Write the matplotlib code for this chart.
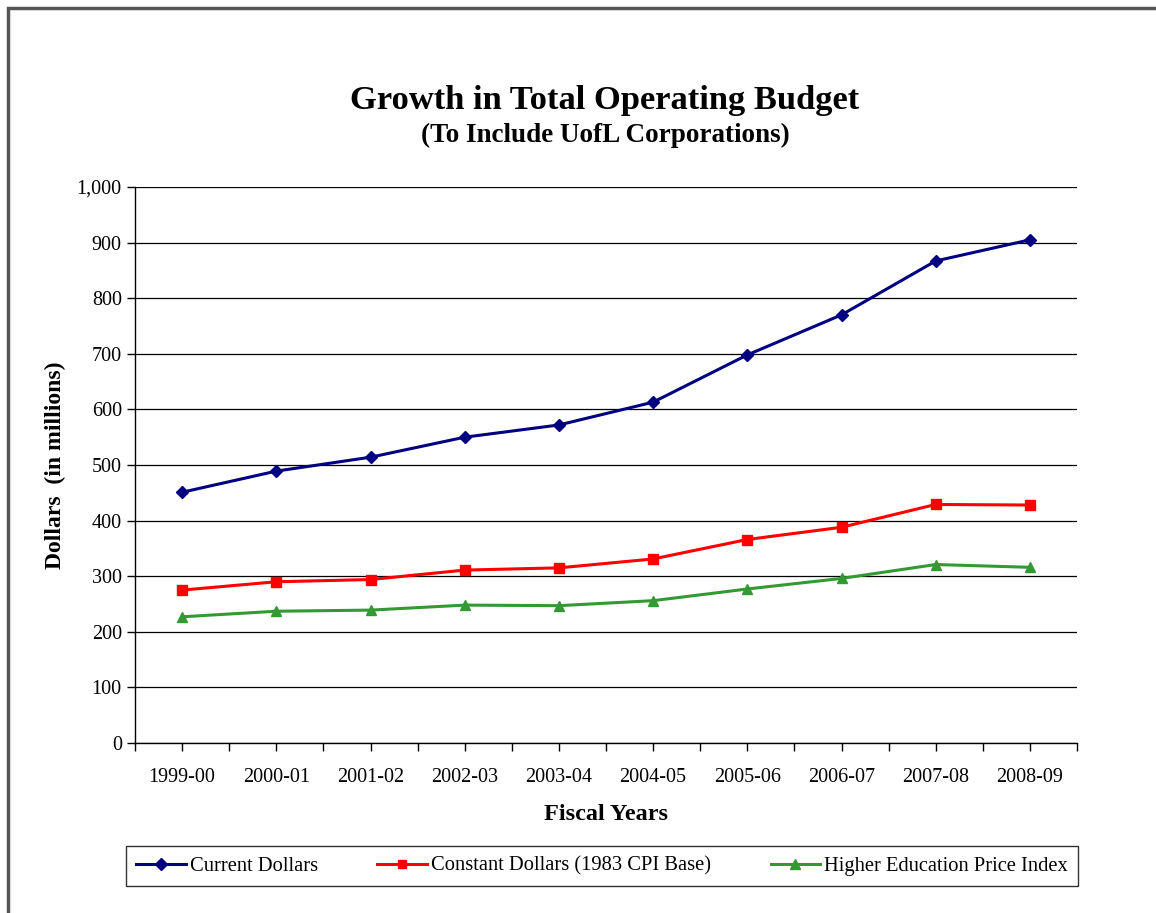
import matplotlib.pyplot as plt
from matplotlib.patches import Rectangle
from matplotlib.ticker import FuncFormatter, MultipleLocator

years = ['1999-00', '2000-01', '2001-02', '2002-03', '2003-04',
         '2004-05', '2005-06', '2006-07', '2007-08', '2008-09']
current_dollars = [451, 489, 514, 550, 572, 613, 698, 770, 867, 905]
constant_dollars = [275, 290, 294, 311, 315, 331, 366, 388, 429, 428]
hepi = [227, 237, 239, 248, 247, 256, 277, 296, 321, 316]

plt.rcParams['font.family'] = 'Liberation Serif'

fig = plt.figure(figsize=(11.56, 9.13), dpi=100)
ax = fig.add_axes([135 / 1156, 1 - 743 / 913, 942 / 1156, 556 / 913])

x = list(range(len(years)))
ax.plot(x, current_dollars, color='#000080', lw=2.2, marker='D', ms=6.5,
        label='Current Dollars', zorder=3)
ax.plot(x, constant_dollars, color='#ff0000', lw=2.2, marker='s', ms=7,
        label='Constant Dollars (1983 CPI Base)', zorder=3)
ax.plot(x, hepi, color='#339933', lw=2.2, marker='^', ms=7.5,
        label='Higher Education Price Index', zorder=3)

ax.set_xlim(-0.5, len(years) - 0.5)
ax.set_ylim(0, 1000)
ax.yaxis.set_major_locator(MultipleLocator(100))
ax.yaxis.set_major_formatter(FuncFormatter(lambda v, p: f'{int(v):,}'))
ax.set_xticks(x)
ax.set_xticklabels(years)
ax.set_xticks([i - 0.5 for i in range(len(years) + 1)], minor=True)
ax.tick_params(axis='both', which='major', labelsize=14.5, length=6, width=1, color='black')
ax.tick_params(axis='x', which='minor', length=6, width=1)
ax.tick_params(axis='x', which='major', pad=12)
ax.grid(axis='y', color='black', lw=0.9)
ax.set_axisbelow(True)
for s in ['top', 'right']:
    ax.spines[s].set_visible(False)
for s in ['left', 'bottom']:
    ax.spines[s].set_color('black')
    ax.spines[s].set_linewidth(1)

ax.set_xlabel('Fiscal Years', fontsize=17.5, fontweight='bold', labelpad=12)
ax.set_ylabel('Dollars  (in millions)', fontsize=17, fontweight='bold', labelpad=8)

fig.text(605 / 1156, 1 - 100 / 913, 'Growth in Total Operating Budget',
         ha='center', va='center', fontsize=24.8, fontweight='bold')
fig.text(605 / 1156, 1 - 135 / 913, '(To Include UofL Corporations)',
         ha='center', va='center', fontsize=19.5, fontweight='bold')

leg = fig.legend(loc='center', bbox_to_anchor=(602 / 1156, 1 - 866 / 913),
                 ncol=3, fontsize=14.8, frameon=True, fancybox=False,
                 edgecolor='black', handlelength=2.4, columnspacing=2.9,
                 handletextpad=0.2, borderpad=0.5, markerscale=0.9)
leg.get_frame().set_linewidth(1)

fig.patches.append(Rectangle((8 / 1156, -0.1), 1.2, 1 - 8 / 913 + 0.1,
                             transform=fig.transFigure, fill=False,
                             edgecolor='#555555', lw=2.5))

fig.savefig('out.png', dpi=100)
